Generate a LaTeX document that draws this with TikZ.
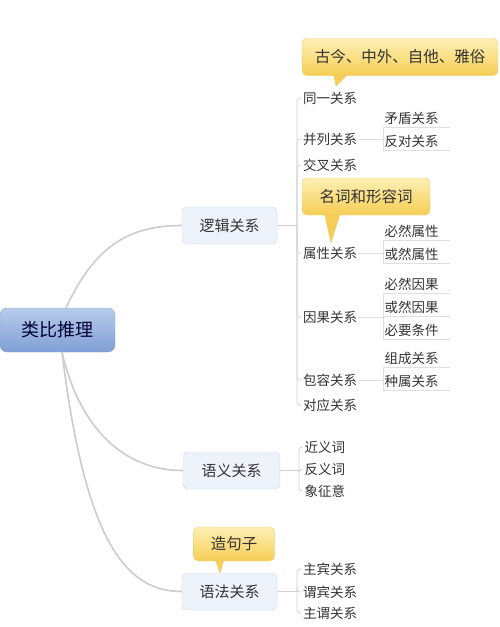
\documentclass[tikz,border=0pt]{standalone}
\usepackage{fontspec}
\setmainfont{Noto Sans CJK SC}
\definecolor{rootTop}{HTML}{B8CBEB}
\definecolor{rootBot}{HTML}{809FD6}
\definecolor{rootLine}{HTML}{8FA7D2}
\definecolor{topicFill}{HTML}{EEF2FB}
\definecolor{topicLine}{HTML}{CCD5E8}
\definecolor{noteTop}{HTML}{FDEFB4}
\definecolor{noteBot}{HTML}{F6CE55}
\definecolor{noteLine}{HTML}{EACB70}
\definecolor{ink}{HTML}{333333}
\begin{document}
\begin{tikzpicture}[x=1pt,y=-1pt,
  trunk/.style={draw=gray!40,line width=1.6pt},
  branch/.style={draw=gray!35,line width=0.8pt,rounded corners=3pt},
  subline/.style={draw=gray!25,line width=0.7pt,rounded corners=3pt},
  root/.style={draw=rootLine,top color=rootTop,bottom color=rootBot,rounded corners=7pt,
    minimum width=115pt,minimum height=44pt,text=blue!20!black,font=\fontsize{18}{20}\selectfont},
  topic/.style={draw=topicLine,fill=topicFill,rounded corners=5pt,
    minimum width=95pt,minimum height=37pt,text=ink,font=\fontsize{15}{18}\selectfont},
  note/.style={draw=noteLine,top color=noteTop,bottom color=noteBot,rounded corners=5pt,
    minimum height=37pt,text=ink,font=\fontsize{15.5}{18}\selectfont},
  tail/.style={draw=noteLine,fill=noteBot,line join=round},
  leaf/.style={anchor=west,inner sep=1.5pt,text=ink,font=\fontsize{13.5}{16}\selectfont},
  sub/.style={anchor=west,inner sep=1.5pt,text width=64pt,text height=11pt,text depth=3pt,
    text=ink,font=\fontsize{13.5}{16}\selectfont}]
\useasboundingbox (0,0) rectangle (500,627);

% main topics
\node[root] (root) at (57.5,330) {类比推理};
\node[topic] (logic) at (229.5,225.5) {逻辑关系};
\node[topic,minimum width=97pt] (sem) at (231.5,470.5) {语义关系};
\node[topic] (gram) at (229.5,591.5) {语法关系};

\coordinate (rt) at (66,308);
\coordinate (rb) at (62,352);
\draw[trunk] (rt) .. controls (95,245) and (130,225.5) .. (logic.west);
\draw[trunk] (rb) .. controls (80,430) and (125,470.5) .. (sem.west);
\draw[trunk] (rb) .. controls (85,540) and (125,591.5) .. (gram.west);

% logic relations
\coordinate (lb) at (297,225.5);
\draw[branch] (logic.east) -- (lb);
\foreach \n/\y/\t in {tong/98/同一关系, bing/139/并列关系, jiao/165/交叉关系,
  shu/253/属性关系, yin/317/因果关系, bao/380/包容关系, dui/405/对应关系}
{ \node[leaf] (\n) at (301.5,\y) {\t};
  \draw[branch] (lb) |- (\n.west);
}

% sub items
\foreach \n/\y/\t in {maodun/119/矛盾关系, fandui/142/反对关系,
  bishu/232/必然属性, huoshu/255/或然属性,
  biyin/285/必然因果, huoyin/308/或然因果, biyao/331/必要条件,
  zucheng/359/组成关系, zhongshu/382/种属关系}
{ \node[sub] (\n) at (383,\y) {\t};
  \draw[subline] (\n.south west) -- (\n.south east);
}
\draw[subline] (maodun.south west) -- (fandui.south west);
\draw[subline] (bing.east) -- (bing.east -| fandui.west);
\draw[subline] (bishu.south west) -- (huoshu.south west);
\draw[subline] (shu.east) -- (shu.east -| huoshu.west);
\draw[subline] (biyin.south west) -- (biyao.south west);
\draw[subline] (yin.east) -- (yin.east -| biyao.west);
\draw[subline] (zucheng.south west) -- (zhongshu.south west);
\draw[subline] (bao.east) -- (bao.east -| zhongshu.west);

% semantic relations
\coordinate (sb) at (299,470.5);
\draw[branch] (sem.east) -- (sb);
\foreach \n/\y/\t in {jinyi/447/近义词, fanyi/469/反义词, xiang/491/象征意}
{ \node[leaf] (\n) at (303,\y) {\t};
  \draw[branch] (sb) |- (\n.west);
}

% grammar relations
\coordinate (gb) at (297,591.5);
\draw[branch] (gram.east) -- (gb);
\foreach \n/\y/\t in {zhubin/569/主宾关系, weibin/592/谓宾关系, zhuwei/613/主谓关系}
{ \node[leaf] (\n) at (301.5,\y) {\t};
  \draw[branch] (gb) |- (\n.west);
}

% notes
\draw[tail] (333,72) -- (336,86) -- (350,72) -- cycle;
\node[note,minimum width=196pt] (gujin) at (400,57) {古今、中外、自他、雅俗};
\draw[tail] (324,211) -- (331,243) -- (341,211) -- cycle;
\node[note,minimum width=128pt] (mingci) at (366,196.5) {名词和形容词};
\draw[tail] (214,556) -- (220,573) -- (225,556) -- cycle;
\node[note,minimum width=81pt,minimum height=34pt] (zaoju) at (234,544) {造句子};
\end{tikzpicture}
\end{document}
